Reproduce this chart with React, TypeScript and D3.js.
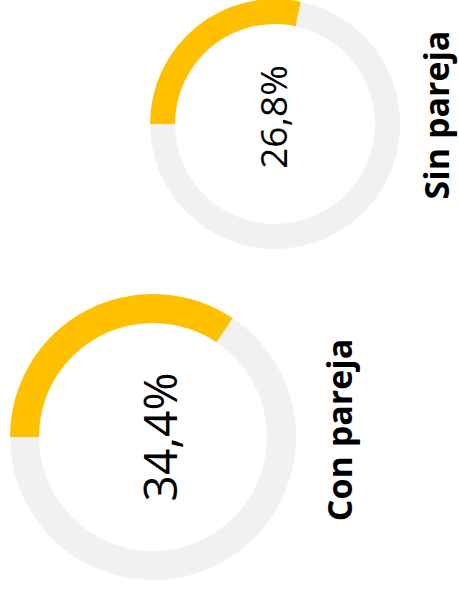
import React from "react";
import * as d3 from "d3";

// two donut gauges, whole graphic turned a quarter turn to the left
const groups = ["Con pareja", "Sin pareja"];
const valueLabels = ["34,4%", "26,8%"];
// filled share as drawn by the ring
const ringShare = [34.4, 28.3];

const W = 459;
const H = 590;
const YELLOW = "#FFC000";
const GREY = "#F1F1F1";
const FONT = "'Segoe UI', 'Open Sans', 'Noto Sans', sans-serif";

const layout = [
  { cx: 153, cy: 437, rOut: 143, rIn: 114, valX: 177, valY: 437, valSize: 46, nameX: 352, nameY: 430, nameSize: 34 },
  { cx: 275, cy: 124, rOut: 125, rIn: 100, valX: 287, valY: 117, valSize: 37, nameX: 449, nameY: 115, nameSize: 34 },
];

export default function App() {
  const share = d3.scaleLinear().domain([0, 100]).range([0, 2 * Math.PI]);
  const start = -Math.PI / 2;

  return (
    <svg
      width={W}
      height={H}
      style={{ position: "absolute", left: 0, top: 0, background: "#fff" }}
    >
      {groups.map((g, i) => {
        const L = layout[i];
        const arc = d3.arc<any>().innerRadius(L.rIn).outerRadius(L.rOut);
        const filled = arc({ startAngle: start, endAngle: start + share(ringShare[i]) });
        const rest = arc({ startAngle: start + share(ringShare[i]), endAngle: start + share(100) });
        return (
          <g key={g}>
            <g transform={`translate(${L.cx},${L.cy})`}>
              <path d={rest || ""} fill={GREY} />
              <path d={filled || ""} fill={YELLOW} />
            </g>
            <text
              transform={`translate(${L.valX},${L.valY}) rotate(-90)`}
              textAnchor="middle"
              fontFamily={FONT}
              fontSize={L.valSize}
              fill="#000"
            >
              {valueLabels[i]}
            </text>
            <text
              transform={`translate(${L.nameX},${L.nameY}) rotate(-90)`}
              textAnchor="middle"
              fontFamily={FONT}
              fontWeight="bold"
              fontSize={L.nameSize}
              fill="#000"
            >
              {g}
            </text>
          </g>
        );
      })}
    </svg>
  );
}
